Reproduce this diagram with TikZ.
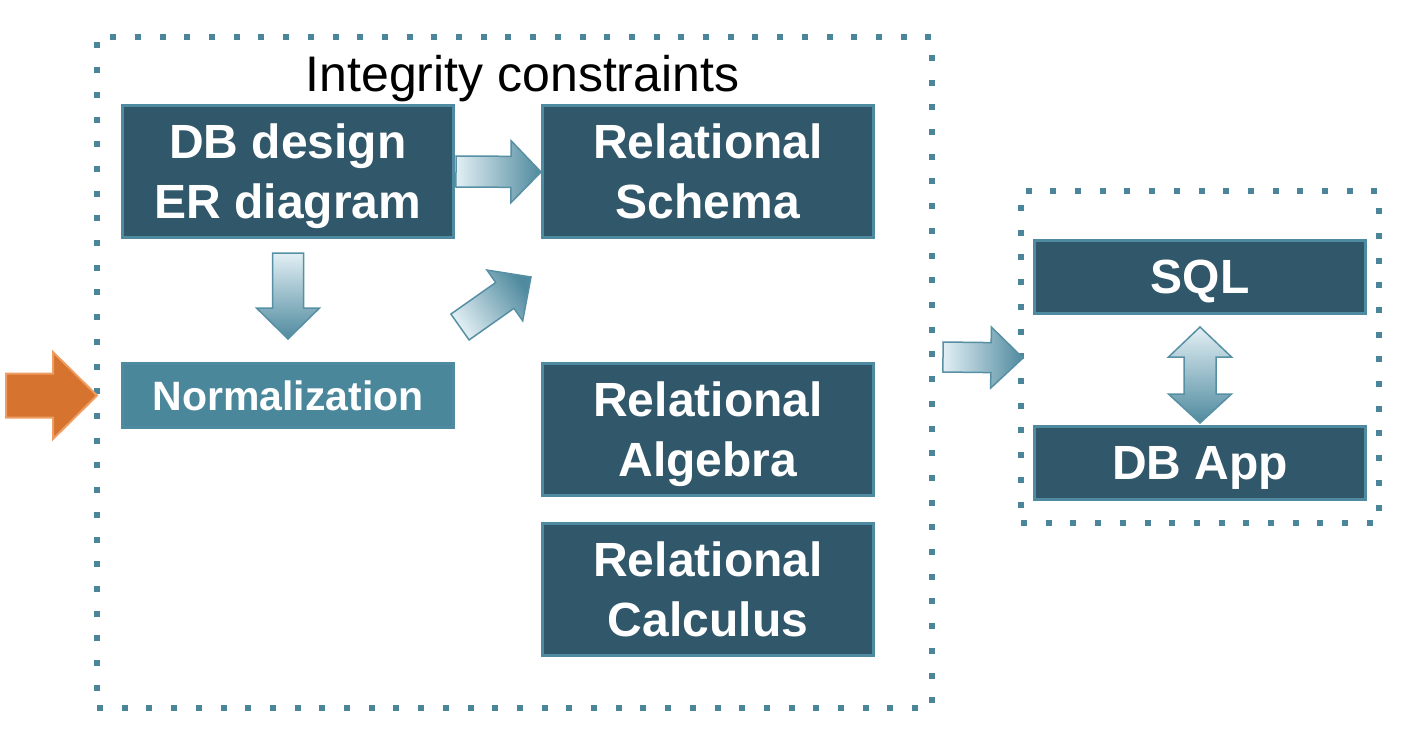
\documentclass[tikz,border=0pt]{standalone}
\usepackage{fontspec}
\setmainfont{Liberation Sans}
\usetikzlibrary{calc}
\definecolor{boxfill}{HTML}{30576A}
\definecolor{boxline}{HTML}{4F8BA0}
\definecolor{normfill}{HTML}{4B879B}
\definecolor{dotcol}{HTML}{4A8599}
\definecolor{gradlight}{HTML}{E2EFF4}
\definecolor{graddark}{HTML}{4F8A9E}
\definecolor{arrline}{HTML}{5790A4}
\definecolor{orangefill}{HTML}{D5732F}
\definecolor{orangeline}{HTML}{EE9E62}
\newcommand\lastline[1]{\raisebox{0pt}[\height][0pt]{#1}}
% #1 style, #2 tail, #3 tip, #4 shaft half width, #5 head half width, #6 head length
\newcommand\blockarrow[6]{%
  \coordinate (ba-A) at #2;
  \coordinate (ba-B) at #3;
  \coordinate (ba-H) at ($(ba-B)!#6!(ba-A)$);
  \draw[#1] ($(ba-A)!#4!90:(ba-B)$) -- ($(ba-H)!#4!90:(ba-B)$) -- ($(ba-H)!#5!90:(ba-B)$)
    -- (ba-B) -- ($(ba-H)!#5!-90:(ba-B)$) -- ($(ba-H)!#4!-90:(ba-B)$) -- ($(ba-A)!#4!-90:(ba-B)$) -- cycle;
}
\begin{document}
\begin{tikzpicture}[x=1pt,y=-1pt,
  box/.style={draw=boxline, line width=3pt, fill=boxfill, text=white,
    font=\fontsize{48}{60}\selectfont\bfseries, align=center, inner sep=0pt,
    minimum width=331pt},
  frame/.style={draw=dotcol, line width=6pt, dash pattern=on 6pt off 18.7pt,
    inner sep=0pt, outer sep=0pt},
  hshade/.style={draw=arrline, line width=1.5pt, left color=gradlight, right color=graddark},
  vshade/.style={draw=arrline, line width=1.5pt, top color=gradlight, bottom color=graddark},
  dshade/.style={draw=arrline, line width=1.5pt, top color=gradlight, bottom color=graddark, shading angle=125},
  orangearrow/.style={draw=orangeline, line width=2pt, fill=orangefill}]
\useasboundingbox (0,0) rectangle (1424,746);
\fill[white] (0,0) rectangle (1424,746);

% frames
\node[frame, minimum width=835pt, minimum height=671pt] (outer) at (514.5,372.5) {};
\node[frame, minimum width=358pt, minimum height=332pt] (appframe) at (1200,357) {};

% title
\node[anchor=base, font=\fontsize{50}{60}\selectfont, inner sep=0pt] (title) at (522.5,92) {Integrity constraints};

% boxes
\node[box, minimum height=132pt] (dbd) at (288,171.5) {DB design\\\lastline{ER diagram}};
\node[box, minimum height=132pt] (rs) at (708,171.5) {Relational\\\lastline{Schema}};
\node[box, fill=normfill, minimum height=64pt, font=\fontsize{41}{50}\selectfont\bfseries] (norm) at (288,395.5) {Normalization};
\node[box, minimum height=132pt] (ra) at (708,429.5) {Relational\\\lastline{Algebra}};
\node[box, minimum height=132pt] (rc) at (708,589.5) {Relational\\\lastline{Calculus}};
\node[box, minimum height=73pt] (sql) at (1200,277) {\lastline{SQL}};
\node[box, minimum height=73pt] (dbapp) at (1200,463) {\lastline{DB App}};

% block arrows
\blockarrow{hshade}{($(dbd.east)+(1,0)$)}{($(rs.west)+(0,0.5)$)}{15.5pt}{31pt}{30pt}
\blockarrow{vshade}{($(dbd.south)+(0,14)$)}{($(norm.north)+(0,-23)$)}{15.5pt}{31.5pt}{31pt}
\blockarrow{dshade}{($(norm.north east)+(5,-35)$)}{($(rs.south west)+(-10,38)$)}{15.8pt}{31pt}{32pt}
\blockarrow{orangearrow}{($(norm.west)+(-115,0)$)}{($(norm.west)+(-24,0)$)}{22pt}{43.5pt}{44pt}
\blockarrow{hshade}{($(appframe.west)+(-78,0)$)}{($(appframe.west)+(2,1)$)}{15pt}{30.5pt}{32pt}

% double arrow between SQL and DB App
\coordinate (dT) at ($(sql.south)+(0,12)$);
\coordinate (dB) at ($(dbapp.north)+(0,-2)$);
\draw[vshade] (dT) -- ++(31.5,30) -- ++(-15.5,0) -- ($(dB)+(16,-29)$) -- ++(15.5,0)
  -- (dB) -- ++(-31.5,-29) -- ++(15.5,0) -- ($(dT)+(-16,30)$) -- ++(-15.5,0) -- cycle;
\end{tikzpicture}
\end{document}
